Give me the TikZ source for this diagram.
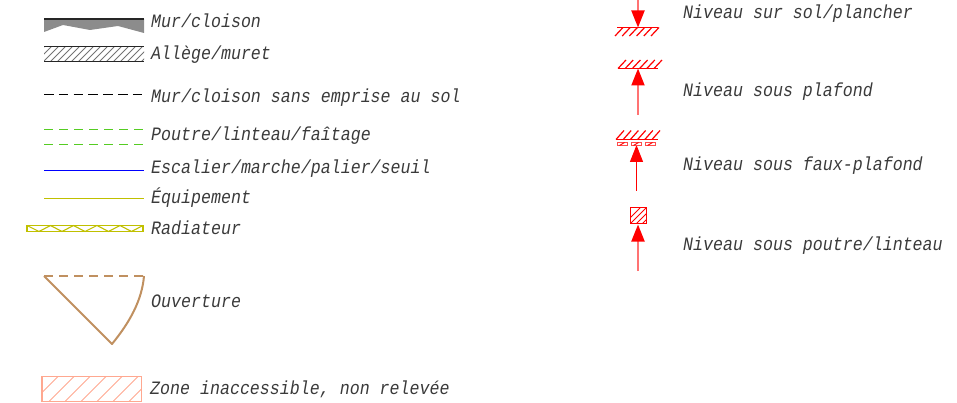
\documentclass[tikz,border=0pt]{standalone}
\usepackage{fontspec}
\setmonofont[FakeStretch=0.88]{Liberation Mono}
\usetikzlibrary{arrows.meta}
\definecolor{txtc}{HTML}{3A3A3A}
\definecolor{grn}{HTML}{55CC22}
\definecolor{ylw}{HTML}{C0C000}
\definecolor{brn}{HTML}{C09060}
\definecolor{sal}{HTML}{FFA890}
\tikzset{
 x=1pt,y=-1pt,
 lab/.style={anchor=west,inner sep=0pt,text=txtc,font=\ttfamily\itshape\fontsize{18.9}{21}\selectfont},
 lvl/.style={red,line width=1.2pt},
 arr/.style={red!55!white,line width=2pt,-{Triangle[length=17pt,width=13pt,color=red]}},
 hat/.style={red,line width=1.2pt},
}
\begin{document}
\begin{tikzpicture}
\useasboundingbox (0,0) rectangle (957,403);
% labels
\node[lab] (l1) at (151,20.8) {Mur/cloison};
\node[lab] (l2) at (151,54.5) {Allège/muret};
\node[lab] (l3) at (151,97.5) {Mur/cloison sans emprise au sol};
\node[lab] (l4) at (151,135.5) {Poutre/linteau/faîtage};
\node[lab] (l5) at (151,168.5) {Escalier/marche/palier/seuil};
\node[lab] (l6) at (151,197.5) {Équipement};
\node[lab] (l7) at (151,228) {Radiateur};
\node[lab] (l8) at (151,301.5) {Ouverture};
\node[lab] (l9) at (150,389.5) {Zone inaccessible, non relevée};
\node[lab] (r1) at (683,13.5) {Niveau sur sol/plancher};
\node[lab] (r2) at (683,91.5) {Niveau sous plafond};
\node[lab] (r3) at (683,165.5) {Niveau sous faux-plafond};
\node[lab] (r4) at (683,245.5) {Niveau sous poutre/linteau};
% mur
\fill[gray!90] (44,19) -- (144,19) -- (144,33) -- (118,26) -- (90,30) -- (63,25) -- (44,32) -- cycle;
\draw[black!85,line width=1.5pt] (44,19) -- (144,19);
% allege
\begin{scope}
\clip (44,47) rectangle (144,62);
\foreach \i in {0,7,...,112} \draw[black!55,line width=1pt] (44+\i-15,62) -- (44+\i,47);
\end{scope}
\draw[black!85,line width=1pt] (44,47) -- (144,47) (44,62) -- (144,62);
% dashed
\draw[black,line width=1pt,dash pattern=on 9.5pt off 5.3pt] (44,95) -- (144,95);
% poutre
\draw[grn,line width=1.1pt,dash pattern=on 9pt off 6pt] (44,129.7) -- (144,129.7);
\draw[grn,line width=1.1pt,dash pattern=on 9pt off 6pt] (44,144.5) -- (144,144.5);
\draw[blue,line width=1pt] (44,170.5) -- (144,170.5);
\draw[ylw,line width=1pt] (44,198.3) -- (144,198.3);
% radiateur
\draw[ylw,line width=1.3pt] (27,225.5) rectangle (143,231.5);
\draw[ylw,line width=1.1pt] (27,225.5) -- (39,231.5) -- (50.5,225.5) -- (62,231.5) -- (73.5,225.5) -- (85,231.5) -- (97,225.5) -- (108.5,231.5) -- (120,225.5) -- (131.5,231.5) -- (143,225.5);
% ouverture
\draw[brn,line width=1.1pt,dash pattern=on 9pt off 6pt] (44,276) -- (144,276);
\draw[brn,line width=2pt,line join=round] (44,276) -- (112,344) .. controls (130,322) and (142,300) .. (144,276);
% zone
\begin{scope}
\clip (42,376.5) rectangle (141.5,401.5);
\foreach \i in {0,16,...,144} \draw[sal,line width=1pt] (42+\i-25,401.5) -- (42+\i,376.5);
\end{scope}
\draw[sal,line width=1.3pt] (42,376.5) rectangle (141.5,401.5);
% level 1
\coordinate (a1s) at (638,0); \coordinate (a1e) at (638,27.5);
\draw[arr] (a1s) -- (a1e);
\draw[lvl] (617,27.5) -- (658,27.5);
\foreach \i in {0,1,...,5} \draw[hat] (615+7.2*\i,36) -- (623+7.2*\i,27.5);
% level 2
\coordinate (a2s) at (638,115); \coordinate (a2e) at (638,68.5);
\draw[arr] (a2s) -- (a2e);
\draw[lvl] (618,68.5) -- (658,68.5);
\foreach \i in {0,1,...,5} \draw[hat] (618+7.2*\i,68.5) -- (626+7.2*\i,60);
% level 3
\coordinate (a3s) at (636.5,191); \coordinate (a3e) at (636.5,145);
\draw[arr,red,line width=1.2pt] (a3s) -- (a3e);
\draw[lvl] (616,139.5) -- (658,139.5);
\foreach \i in {0,1,...,5} \draw[hat] (616+7.2*\i,139.5) -- (624+7.2*\i,130.5);
\foreach \x in {617.5,631.5,645.5} {
  \draw[red!70!white,line width=.8pt] (\x,142.5) rectangle (\x+9.5,145.5);
  \draw[red,line width=.9pt] (\x+2,145.5) -- (\x+7,142.5);
}
% level 4
\coordinate (a4s) at (638,271); \coordinate (a4e) at (638,224.5);
\draw[arr] (a4s) -- (a4e);
\draw[red,line width=1pt] (630,208) rectangle (646,224);
\begin{scope}
\clip (630,208) rectangle (646,224);
\foreach \i in {0,6,...,30} \draw[red,line width=.9pt] (624+\i,224) -- (640+\i,208);
\end{scope}
\end{tikzpicture}
\end{document}
